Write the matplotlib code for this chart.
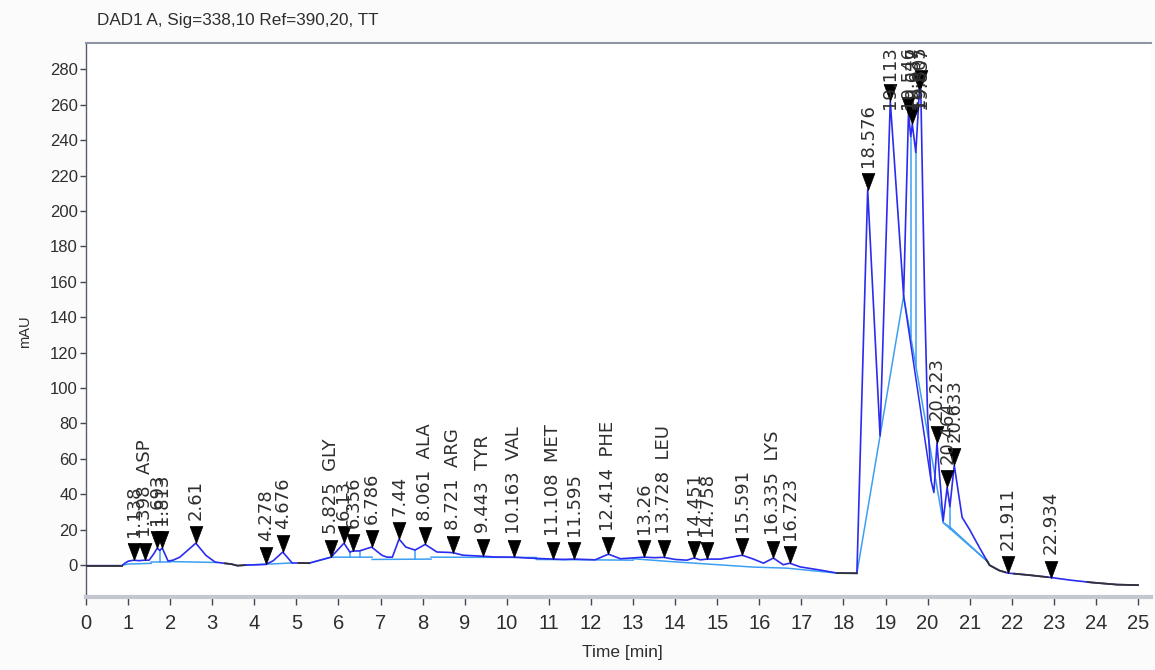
import numpy as np
import matplotlib
matplotlib.use("Agg")
import matplotlib.pyplot as plt
from matplotlib import font_manager

# ---------------- data ----------------
# detector trace: retention time (min) and absorbance (mAU)
time_min = [
    0.0, 0.85, 0.92, 1.0, 1.138, 1.25, 1.398, 1.5, 1.6, 1.693, 1.75, 1.813,
    1.95, 2.07, 2.23, 2.61, 2.85, 3.07, 3.3, 3.45, 3.6, 3.78, 4.278, 4.45,
    4.676, 4.9, 5.08, 5.3, 5.825, 6.13, 6.27, 6.356, 6.5, 6.786, 7.03, 7.15,
    7.28, 7.44, 7.6, 7.82, 8.061, 8.34, 8.6, 8.721, 8.96, 9.443, 9.7, 10.163,
    10.5, 11.108, 11.35, 11.595, 12.1, 12.414, 12.7, 13.26, 13.5, 13.728,
    14.0, 14.28, 14.451, 14.6, 14.758, 15.07, 15.591, 15.85, 16.1, 16.335,
    16.57, 16.723, 16.97, 17.45, 17.85, 18.32, 18.576, 18.87, 19.113, 19.43,
    19.546, 19.6, 19.637, 19.72, 19.805, 19.837, 19.93, 20.0, 20.08, 20.15,
    20.223, 20.37, 20.464, 20.53, 20.633, 20.82, 21.0, 21.23, 21.47, 21.7,
    21.911, 22.4, 22.934, 23.4, 23.9, 24.5, 25.0,
]
signal_mau = [
    -0.3, -0.3, 1.0, 2.2, 2.8, 2.5, 2.8, 2.8, 6.0, 9.6, 8.3, 9.6,
    2.3, 2.8, 4.5, 12.4, 5.5, 1.7, 1.0, 0.6, -0.3, 0.0, 0.4, 2.5,
    7.4, 1.2, 1.2, 1.1, 4.5, 12.4, 7.4, 8.0, 8.0, 10.2, 5.6, 4.5,
    4.5, 14.7, 10.2, 8.5, 11.7, 7.4, 7.2, 7.0, 5.6, 5.0, 4.6, 4.5,
    4.0, 3.4, 3.2, 3.4, 3.0, 6.2, 3.6, 4.5, 4.2, 4.4,
    3.2, 2.8, 4.0, 3.0, 3.4, 3.4, 5.6, 3.5, 1.1, 4.0,
    0.2, 1.1, -1.0, -2.8, -4.5, -4.6, 212.0, 73.0, 262.0, 152.0,
    255.0, 242.0, 249.0, 233.0, 268.0, 270.0, 150.0, 84.0, 48.0, 41.0,
    69.0, 25.0, 44.0, 33.0, 56.5, 27.0, 20.0, 10.0, 0.0, -3.0,
    -4.5, -5.6, -7.0, -8.5, -9.8, -11.0, -11.3,
]

# integrated peaks and their compound names
peak_times = [
    1.138, 1.398, 1.693, 1.813, 2.61, 4.278, 4.676, 5.825, 6.13, 6.356,
    6.786, 7.44, 8.061, 8.721, 9.443, 10.163, 11.108, 11.595, 12.414, 13.26,
    13.728, 14.451, 14.758, 15.591, 16.335, 16.723, 18.576, 19.113, 19.546,
    19.637, 19.805, 19.837, 20.223, 20.464, 20.633, 21.911, 22.934,
]
peak_names = {
    1.398: "ASP", 5.825: "GLY", 8.061: "ALA", 8.721: "ARG", 9.443: "TYR",
    10.163: "VAL", 11.108: "MET", 12.414: "PHE", 13.728: "LEU", 16.335: "LYS",
}

# integration baselines (time, mAU) and peak drop lines
baseline_segments = [
    [(0.88, 0.0), (1.0, 0.6), (1.55, 1.0)],
    [(1.55, 1.7), (2.0, 1.7)],
    [(2.0, 2.0), (3.1, 1.5)],
    [(3.78, 0.0), (4.9, 1.2)],
    [(5.3, 1.1), (5.825, 4.5), (6.8, 4.5)],
    [(6.8, 3.2), (8.2, 3.4)],
    [(8.2, 4.5), (10.7, 4.3)],
    [(10.7, 3.2), (13.0, 2.8)],
    [(13.0, 3.6), (13.9, 2.0), (15.85, -1.1), (16.65, -1.7), (17.85, -4.5)],
    [(18.32, -4.6), (19.43, 152.0), (20.37, 24.0), (21.44, 1.7)],
    [(20.37, 24.0), (20.53, 21.5), (21.44, 1.7)],
]
drop_times = [1.75, 6.27, 6.5, 7.82, 19.6, 19.72, 20.53]
skim_segment = [(19.43, 152.0), (20.08, 48.0)]

# stretches of trace outside any integrated peak
unintegrated_ranges = [
    (0.0, 0.85), (3.3, 3.78), (5.05, 5.3), (17.85, 18.32),
    (21.4, 21.85), (22.05, 22.85), (23.8, 25.0),
]

x_ticks = list(range(0, 26))
y_ticks = list(range(0, 281, 20))
title_text = "DAD1 A, Sig=338,10 Ref=390,20, TT"
x_label = "Time [min]"
y_label = "mAU"

# ---------------- fonts ----------------
_installed = {f.name for f in font_manager.fontManager.ttflist}
HAS_NARROW = "Liberation Sans Narrow" in _installed
NARROW = ["Liberation Sans Narrow", "Liberation Sans"] if HAS_NARROW else ["Liberation Sans"]
REGULAR = ["Liberation Sans", "DejaVu Sans"]
LABEL_FONT = ["DejaVu Sans"]

TEXT_COLOR = "#2e2e2e"
SIGNAL_COLOR = "#2c2cf0"
BASE_COLOR = "#3d9ff2"
PLAIN_COLOR = "#333333"

# ---------------- figure ----------------
W, H = 1155, 670
fig = plt.figure(figsize=(W / 100, H / 100), dpi=100, facecolor="#fbfbfb")
x_max, y_min, y_max = 25.3, -18.0, 295.0
px_per_min, px_per_mau = 42.08, 1.771
ax = fig.add_axes([86 / W, 73 / H,
                   (x_max * px_per_min) / W,
                   ((y_max - y_min) * px_per_mau) / H])
ax.set_facecolor("white")
ax.set_xlim(0, x_max)
ax.set_ylim(y_min, y_max)

t = np.asarray(time_min)
v = np.asarray(signal_mau)

# signal
ax.plot(t, v, color=SIGNAL_COLOR, lw=1.2, zorder=3)
for a, b in unintegrated_ranges:
    inner = t[(t > a) & (t < b)]
    tt = np.concatenate([[a], inner, [b]])
    ax.plot(tt, np.interp(tt, t, v), color=PLAIN_COLOR, lw=1.3, zorder=4)

# baselines
for seg in baseline_segments:
    st, sv = zip(*seg)
    ax.plot(st, sv, color=BASE_COLOR, lw=1.1, zorder=2)


def baseline_at(x):
    for seg in baseline_segments:
        st, sv = zip(*seg)
        if st[0] <= x <= st[-1]:
            return float(np.interp(x, st, sv))
    return 0.0


for dt in drop_times:
    ax.plot([dt, dt], [baseline_at(dt), float(np.interp(dt, t, v))],
            color=BASE_COLOR, lw=1.1, zorder=2)

sk_t, sk_v = zip(*skim_segment)
ax.plot(sk_t, sk_v, color=SIGNAL_COLOR, lw=1.1, zorder=3)

# peak markers: downward triangle with its tip on the apex
peak_vals = np.interp(peak_times, t, v)
tri = [(-0.75, 2.0), (0.75, 2.0), (0.0, 0.0), (-0.75, 2.0)]
ax.plot(peak_times, peak_vals, ls="none", marker=tri, ms=24.5,
        color="black", mec="black", mew=0.5, zorder=6, clip_on=False)

# peak labels
annotations = []
for pt, pv in zip(peak_times, peak_vals):
    txt = f"{pt:g}"
    if pt in peak_names:
        txt = f"{txt}  {peak_names[pt]}"
    ann = ax.annotate(txt, xy=(pt, pv), xytext=(0, 16.6),
                      textcoords="offset points", rotation=90,
                      ha="center", va="bottom", fontsize=13,
                      family=LABEL_FONT, color=TEXT_COLOR, zorder=7)
    annotations.append(ann)

# axes styling
ax.spines["right"].set_visible(False)
ax.spines["top"].set_color("#8e96a6")
ax.spines["top"].set_linewidth(1.5)
ax.spines["left"].set_color("#555c6a")
ax.spines["left"].set_linewidth(1.0)
ax.spines["bottom"].set_color("#c3c7d0")
ax.spines["bottom"].set_linewidth(3.0)

ax.set_xticks(x_ticks)
ax.set_yticks(y_ticks)
ax.tick_params(axis="x", direction="out", length=6, width=1, color="#404654",
               pad=6, labelcolor=TEXT_COLOR)
ax.tick_params(axis="y", direction="out", length=4, width=1, color="#404654",
               pad=2, labelcolor=TEXT_COLOR)
for lab in ax.get_xticklabels():
    lab.set_family(NARROW)
    lab.set_fontsize(17 if HAS_NARROW else 14.5)
for lab in ax.get_yticklabels():
    lab.set_family(REGULAR)
    lab.set_fontsize(12)

fig.text(97 / W, 1 - 20.5 / H, title_text, ha="left", va="center",
         family=NARROW, fontsize=15 if HAS_NARROW else 12.3, color=TEXT_COLOR)
fig.text(622 / W, 1 - 652 / H, x_label, ha="center", va="center",
         family=NARROW, fontsize=13.5 if HAS_NARROW else 12.5, color=TEXT_COLOR)
fig.text(25 / W, 1 - 332 / H, y_label, ha="center", va="center", rotation=90,
         family=REGULAR, fontsize=10.5, color=TEXT_COLOR)

# keep labels of the tallest peaks inside the plotting frame
fig.canvas.draw()
renderer = fig.canvas.get_renderer()
top_px = ax.get_window_extent(renderer).y1 - 3
for ann in annotations:
    bb = ann.get_window_extent(renderer)
    if bb.y1 > top_px:
        shift_pt = (bb.y1 - top_px) * 72.0 / fig.dpi
        ann.xyann = (0, ann.xyann[1] - shift_pt)

fig.savefig("out.png", dpi=100, facecolor=fig.get_facecolor())
